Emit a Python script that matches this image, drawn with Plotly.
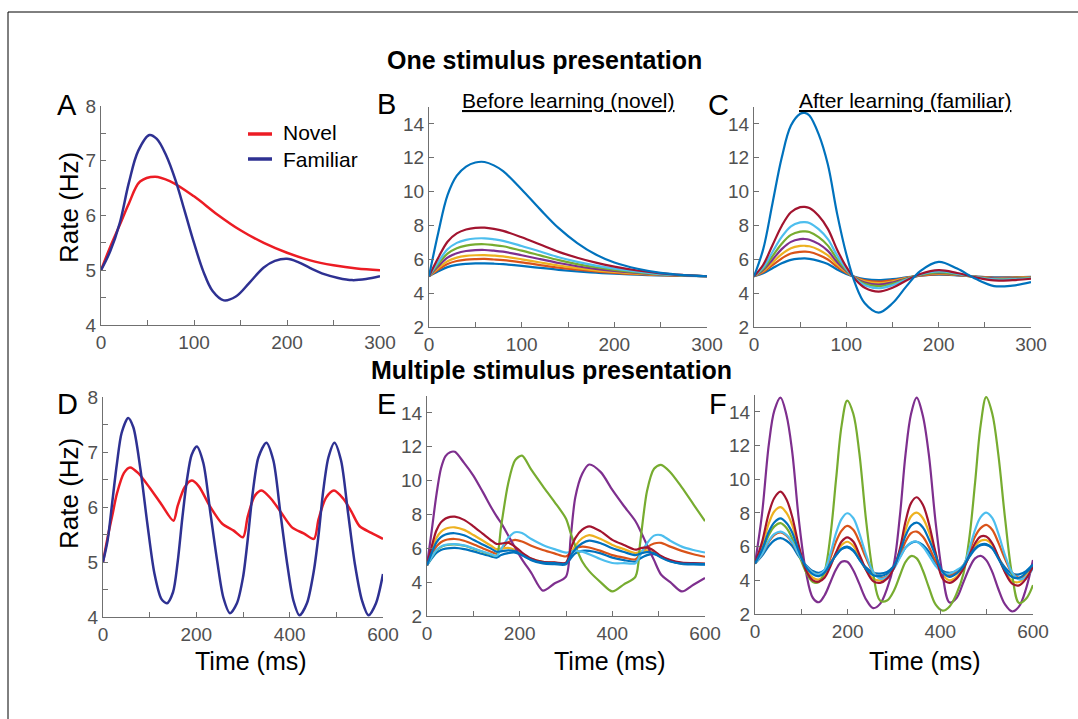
import plotly.graph_objects as go

W, H = 1078, 719
FONT = "Liberation Sans, Arial, Helvetica, sans-serif"

# ---------------- colours ----------------
NOVEL = '#EC1C24'
FAMIL = '#2E3192'
BLUE, ORANGE, YELLOW, PURPLE = '#0072BD', '#D95319', '#EDB120', '#7E2F8E'
GREEN, LBLUE, DRED = '#77AC30', '#4DBEEE', '#A2142F'

# ---------------- Panel A ----------------
t_A_novel = [0, 10, 20, 30, 42, 58, 75, 100, 125, 150, 175, 200, 225, 250, 275, 300]
A_novel = [5, 5.43, 5.82, 6.22, 6.62, 6.71, 6.62, 6.35, 6.02, 5.73, 5.5, 5.32, 5.18, 5.09, 5.03, 5.0]
t_A_fam = [0, 10, 20, 30, 40, 52, 60, 70, 80, 90, 100, 110, 120, 132, 145, 160, 175, 187, 200, 212, 225, 240, 255, 270, 285, 300]
A_fam = [5, 5.35, 5.85, 6.6, 7.18, 7.47, 7.4, 7.1, 6.65, 6.08, 5.5, 4.98, 4.62, 4.45, 4.52, 4.78, 5.05, 5.17, 5.21, 5.15, 5.04, 4.93, 4.86, 4.82, 4.84, 4.89]

# ---------------- Panel B ----------------
t_B = [0, 10, 20, 30, 40, 50, 60, 70, 80, 100, 120, 140, 160, 180, 200, 225, 250, 275, 300]
B_blue = [5, 5.29, 5.54, 5.67, 5.73, 5.76, 5.76, 5.74, 5.71, 5.61, 5.49, 5.38, 5.29, 5.21, 5.15, 5.09, 5.05, 5.02, 5]
B_orange = [5, 5.39, 5.72, 5.90, 5.98, 6.01, 6.02, 5.99, 5.95, 5.82, 5.66, 5.51, 5.39, 5.29, 5.20, 5.12, 5.06, 5.03, 5]
B_yellow = [5, 5.48, 5.89, 6.10, 6.20, 6.24, 6.25, 6.22, 6.17, 6.00, 5.81, 5.63, 5.48, 5.35, 5.25, 5.15, 5.08, 5.03, 5]
B_purple = [5, 5.59, 6.10, 6.36, 6.49, 6.54, 6.55, 6.51, 6.45, 6.24, 6.01, 5.78, 5.59, 5.43, 5.31, 5.19, 5.09, 5.04, 5]
B_green = [5, 5.72, 6.34, 6.66, 6.81, 6.88, 6.89, 6.84, 6.77, 6.51, 6.23, 5.95, 5.72, 5.53, 5.38, 5.23, 5.11, 5.05, 5]
B_lblue = [5, 5.85, 6.59, 6.97, 7.15, 7.23, 7.24, 7.18, 7.09, 6.79, 6.46, 6.12, 5.85, 5.63, 5.45, 5.27, 5.13, 5.06, 5]
B_dred = [5, 6.09, 7.04, 7.53, 7.76, 7.86, 7.87, 7.80, 7.68, 7.30, 6.87, 6.44, 6.09, 5.80, 5.57, 5.34, 5.17, 5.07, 5]
B_big = [5, 7.57, 9.79, 10.94, 11.48, 11.72, 11.75, 11.55, 11.21, 10.13, 8.95, 7.84, 6.96, 6.28, 5.81, 5.44, 5.2, 5.07, 5]

# ---------------- Panel C ----------------
t_C = [0, 10, 20, 30, 40, 50, 55, 60, 70, 80, 90, 100, 110, 120, 135, 150, 165, 180, 200, 220, 240, 260, 280, 300]
C_blue = [5, 5.17, 5.47, 5.76, 5.97, 6.04, 6.05, 6.03, 5.91, 5.72, 5.40, 5.14, 4.95, 4.83, 4.77, 4.83, 4.93, 5.03, 5.09, 5.05, 4.98, 4.94, 4.94, 4.96]
C_orange = [5, 5.24, 5.65, 6.05, 6.34, 6.44, 6.45, 6.43, 6.26, 5.99, 5.56, 5.20, 4.92, 4.76, 4.68, 4.76, 4.91, 5.04, 5.13, 5.07, 4.98, 4.91, 4.92, 4.95]
C_yellow = [5, 5.30, 5.80, 6.31, 6.66, 6.79, 6.8, 6.77, 6.57, 6.23, 5.69, 5.24, 4.91, 4.70, 4.60, 4.70, 4.89, 5.06, 5.16, 5.08, 4.97, 4.89, 4.90, 4.94]
C_purple = [5, 5.37, 5.98, 6.60, 7.03, 7.19, 7.2, 7.16, 6.91, 6.50, 5.84, 5.30, 4.89, 4.63, 4.51, 4.63, 4.86, 5.07, 5.19, 5.10, 4.96, 4.87, 4.87, 4.92]
C_green = [5, 5.44, 6.18, 6.92, 7.44, 7.64, 7.65, 7.61, 7.31, 6.81, 6.01, 5.36, 4.86, 4.56, 4.41, 4.56, 4.84, 5.08, 5.23, 5.12, 4.96, 4.84, 4.85, 4.90]
C_lblue = [5, 5.53, 6.43, 7.32, 7.95, 8.18, 8.2, 8.15, 7.78, 7.19, 6.23, 5.43, 4.83, 4.47, 4.29, 4.47, 4.80, 5.10, 5.28, 5.15, 4.95, 4.81, 4.82, 4.88]
C_dred = [5, 5.68, 6.83, 7.97, 8.78, 9.08, 9.1, 9.03, 8.57, 7.80, 6.57, 5.55, 4.79, 4.32, 4.09, 4.32, 4.75, 5.13, 5.36, 5.19, 4.93, 4.75, 4.77, 4.85]
C_big = [5, 6.6, 9.3, 12.0, 13.9, 14.6, 14.65, 14.5, 13.4, 11.6, 8.7, 6.3, 4.5, 3.4, 2.85, 3.4, 4.4, 5.3, 5.85, 5.45, 4.85, 4.42, 4.45, 4.65]

# ---------------- Panel D ----------------
t_D_novel = [0, 10, 20, 30, 45, 58, 75, 100, 125, 151, 160, 175, 190, 205, 230, 255, 280, 300, 310, 325, 340, 360, 380, 405, 430, 452, 462, 478, 495, 515, 532, 550, 575, 600]
D_novel = [5, 5.45, 5.85, 6.25, 6.62, 6.72, 6.62, 6.35, 6.05, 5.75, 6.02, 6.36, 6.48, 6.38, 6.0, 5.7, 5.57, 5.45, 5.82, 6.2, 6.3, 6.15, 5.92, 5.63, 5.52, 5.42, 5.78, 6.17, 6.3, 6.15, 5.92, 5.65, 5.53, 5.42]
t_D_fam = [0, 10, 20, 30, 40, 54, 65, 80, 95, 110, 125, 137, 150, 160, 170, 180, 190, 201, 215, 230, 245, 258, 272, 287, 300, 310, 320, 333, 350, 365, 380, 395, 408, 421, 437, 452, 462, 472, 483, 496, 510, 525, 540, 555, 569, 585, 600]
D_fam = [5, 5.4, 6.1, 6.8, 7.35, 7.62, 7.45, 6.7, 5.7, 4.8, 4.33, 4.25, 4.45, 5.0, 5.8, 6.5, 6.95, 7.1, 6.8, 5.9, 5.0, 4.35, 4.07, 4.25, 4.72, 5.4, 6.2, 6.9, 7.17, 6.85, 5.9, 4.95, 4.3, 4.03, 4.25, 4.85, 5.5, 6.3, 6.9, 7.17, 6.85, 5.9, 4.95, 4.3, 4.03, 4.25, 4.78]

# ---------------- Panel E ----------------
t_E = [0, 10, 20, 30, 40, 50, 60, 80, 100, 120, 140, 150,
       160, 175, 190, 205, 225, 250, 275, 300,
       310, 320, 335, 350, 375, 400, 425, 450,
       460, 475, 490, 505, 525, 550, 575, 600]
E_blue_low = [5, 5.39, 5.72, 5.90, 5.98, 6.01, 6.02, 5.95, 5.82, 5.66, 5.51, 5.45,
              5.6, 5.72, 5.75, 5.6, 5.3, 5.1, 5.06, 5.05,
              5.4, 5.7, 5.85, 5.85, 5.7, 5.45, 5.3, 5.22,
              5.4, 5.6, 5.65, 5.5, 5.25, 5.08, 5.05, 5.04]
E_orange = [5, 5.59, 6.10, 6.36, 6.49, 6.54, 6.55, 6.45, 6.24, 6.01, 5.78, 5.68,
            5.95, 6.35, 6.5, 6.4, 6.15, 5.9, 5.7, 5.52,
            5.75, 5.98, 6.1, 6.05, 5.85, 5.6, 5.45, 5.35,
            5.65, 6.05, 6.28, 6.32, 6.1, 5.85, 5.65, 5.5]
E_yellow = [5, 5.85, 6.59, 6.97, 7.15, 7.23, 7.24, 7.09, 6.79, 6.46, 6.12, 5.95,
            5.98, 6.02, 5.9, 5.65, 5.38, 5.2, 5.15, 5.12,
            5.65, 6.15, 6.6, 6.78, 6.55, 6.2, 5.95, 5.72,
            5.8, 5.88, 5.75, 5.5, 5.28, 5.12, 5.1, 5.08]
E_purple = [5.0, 7.0, 9.1, 10.7, 11.45, 11.68, 11.7, 11.05, 10.3, 9.35, 8.35, 7.9,
            7.5, 6.77, 6.05, 5.35, 4.55, 3.5, 3.92, 4.33,
            6.6, 9.0, 10.4, 10.95, 10.5, 9.45, 8.5, 7.6,
            7.07, 6.18, 5.3, 4.45, 4.0, 3.45, 3.85, 4.25]
E_green = [5, 5.47, 5.87, 6.08, 6.18, 6.22, 6.23, 6.15, 5.98, 5.79, 5.61, 5.55,
           7.3, 9.8, 11.2, 11.48, 10.65, 9.68, 8.75, 7.75,
           6.9, 6.15, 5.22, 4.65, 3.99, 3.45, 3.87, 4.33,
           6.3, 9.4, 10.7, 10.93, 10.5, 9.6, 8.6, 7.6]
E_lblue = [5, 5.48, 5.89, 6.10, 6.20, 6.24, 6.25, 6.17, 6.00, 5.81, 5.63, 5.55,
           5.95, 6.6, 6.95, 6.9, 6.55, 6.2, 5.95, 5.75,
           5.8, 5.85, 5.8, 5.65, 5.35, 5.13, 5.12, 5.12,
           5.6, 6.3, 6.75, 6.78, 6.45, 6.1, 5.9, 5.75]
E_dred = [5, 6.09, 7.04, 7.53, 7.76, 7.86, 7.87, 7.68, 7.30, 6.87, 6.44, 6.26,
          6.28, 6.33, 6.1, 5.75, 5.4, 5.2, 5.17, 5.15,
          5.95, 6.6, 7.1, 7.3, 7.0, 6.5, 6.2, 5.92,
          6.0, 6.05, 5.85, 5.55, 5.3, 5.15, 5.12, 5.1]
E_blue_mid = [5, 5.72, 6.34, 6.66, 6.81, 6.88, 6.89, 6.77, 6.51, 6.23, 5.95, 5.8,
              5.82, 5.88, 5.82, 5.6, 5.32, 5.15, 5.12, 5.1,
              5.55, 5.95, 6.3, 6.45, 6.3, 6.0, 5.78, 5.6,
              5.68, 5.78, 5.7, 5.45, 5.22, 5.1, 5.08, 5.06]

# ---------------- Panel F ----------------
t_F = [0, 15, 30, 42, 55, 68, 80, 95, 110, 125, 138, 150,
       163, 175, 187, 199, 212, 225, 240, 255, 270, 285, 300,
       313, 325, 337, 349, 362, 375, 390, 405, 420, 435, 450,
       463, 475, 487, 499, 512, 525, 540, 555, 570, 585, 600]
F_blue_low = [5.0, 5.45, 6.05, 6.38, 6.5, 6.35, 6.05, 5.4, 4.9, 4.55, 4.45, 4.6,
              5.05, 5.5, 5.85, 5.95, 5.75, 5.25, 4.75, 4.45, 4.4, 4.5, 4.85,
              5.4, 5.95, 6.22, 6.29, 6.1, 5.7, 5.05, 4.55, 4.45, 4.55, 4.85,
              5.4, 5.85, 6.08, 6.1, 5.9, 5.35, 4.75, 4.4, 4.35, 4.55, 4.95]
F_orange = [5.0, 5.55, 6.3, 6.7, 6.85, 6.65, 6.25, 5.5, 4.85, 4.45, 4.35, 4.55,
            5.35, 6.3, 6.95, 7.23, 7.0, 6.3, 5.3, 4.5, 4.15, 4.25, 4.75,
            5.5, 6.3, 6.8, 6.89, 6.6, 6.0, 5.15, 4.5, 4.3, 4.5, 4.9,
            5.75, 6.6, 7.1, 7.29, 7.0, 6.25, 5.25, 4.45, 4.15, 4.3, 4.8]
F_yellow = [5.0, 6.0, 7.4, 8.1, 8.34, 8.0, 7.3, 5.85, 4.7, 4.15, 4.05, 4.3,
            4.95, 5.6, 6.1, 6.29, 6.05, 5.4, 4.6, 4.1, 4.0, 4.2, 4.8,
            5.8, 7.0, 7.8, 8.02, 7.7, 6.9, 5.6, 4.35, 4.0, 4.2, 4.75,
            5.5, 6.05, 6.35, 6.39, 6.1, 5.4, 4.5, 3.95, 3.9, 4.25, 4.85]
F_purple = [5.0, 7.9, 12.1, 14.1, 14.85, 13.8, 11.7, 7.5, 4.5, 2.95, 2.7, 3.1,
            3.9, 4.65, 5.1, 5.1, 4.6, 3.8, 2.85, 2.35, 2.6, 3.5, 5.0,
            7.9, 11.5, 13.9, 14.85, 13.8, 11.5, 7.4, 4.3, 2.68, 2.95, 3.9,
            4.75, 5.3, 5.45, 5.2, 4.5, 3.5, 2.55, 2.15, 2.45, 3.5, 5.2]
F_green = [5.0, 5.7, 6.7, 7.2, 7.39, 7.1, 6.5, 5.5, 4.5, 3.9, 3.9, 4.5,
           6.7, 10.0, 13.2, 14.67, 13.9, 11.6, 7.5, 4.4, 2.8, 2.8, 3.4,
           4.3, 5.1, 5.44, 5.3, 4.6, 3.6, 2.55, 2.2, 2.45, 3.2, 4.4,
           6.6, 9.8, 13.2, 14.87, 13.9, 11.5, 7.6, 4.3, 2.65, 2.9, 3.72]
F_lblue = [5.0, 5.55, 6.35, 6.75, 6.89, 6.7, 6.3, 5.5, 4.85, 4.45, 4.35, 4.6,
           5.6, 6.8, 7.65, 7.98, 7.7, 6.8, 5.5, 4.5, 4.1, 4.2, 4.7,
           5.35, 5.95, 6.25, 6.29, 6.0, 5.5, 4.85, 4.45, 4.4, 4.6, 4.9,
           5.9, 7.0, 7.75, 8.02, 7.7, 6.8, 5.45, 4.45, 4.05, 4.2, 4.7]
F_dred = [5.0, 6.25, 8.0, 8.9, 9.26, 8.8, 7.8, 6.0, 4.6, 4.0, 3.92, 4.15,
          4.85, 5.65, 6.3, 6.55, 6.3, 5.55, 4.6, 3.95, 3.85, 4.1, 4.75,
          5.9, 7.5, 8.6, 8.93, 8.5, 7.4, 5.6, 4.1, 3.85, 4.1, 4.7,
          5.5, 6.2, 6.6, 6.6, 6.2, 5.4, 4.45, 3.8, 3.7, 4.1, 4.81]
F_blue_mid = [5.0, 5.8, 6.9, 7.45, 7.68, 7.4, 6.85, 5.7, 4.8, 4.35, 4.25, 4.45,
              5.0, 5.5, 5.88, 6.0, 5.8, 5.25, 4.65, 4.3, 4.25, 4.4, 4.85,
              5.7, 6.65, 7.25, 7.42, 7.15, 6.45, 5.45, 4.5, 4.2, 4.4, 4.85,
              5.45, 5.9, 6.12, 6.15, 5.9, 5.3, 4.6, 4.2, 4.15, 4.45, 4.95]

# ---------------- tick labels ----------------
x_ticks_single = [0, 100, 200, 300]
x_ticks_multi = [0, 200, 400, 600]
y_ticks_small = [4, 5, 6, 7, 8]
y_ticks_big = [2, 4, 6, 8, 10, 12, 14]

# ---------------- layout geometry (pixels) ----------------
panels = {
    'A': dict(px=(101, 380), py=(106, 325), xr=[0, 300], yr=[4, 8], xt=x_ticks_single, xm=50, yt=y_ticks_small, ym=0.5),
    'B': dict(px=(429, 707), py=(107, 327), xr=[0, 300], yr=[2, 15], xt=x_ticks_single, xm=50, yt=y_ticks_big, ym=None),
    'C': dict(px=(754, 1031), py=(107, 327), xr=[0, 300], yr=[2, 15], xt=x_ticks_single, xm=50, yt=y_ticks_big, ym=None),
    'D': dict(px=(103, 383), py=(397, 617), xr=[0, 600], yr=[4, 8], xt=x_ticks_multi, xm=100, yt=y_ticks_small, ym=0.5),
    'E': dict(px=(427, 705), py=(396, 616), xr=[0, 600], yr=[2, 15], xt=x_ticks_multi, xm=100, yt=y_ticks_big, ym=None),
    'F': dict(px=(755, 1033), py=(395, 614), xr=[0, 600], yr=[2, 15], xt=x_ticks_multi, xm=100, yt=y_ticks_big, ym=None),
}

series = {
    'A': [(t_A_novel, A_novel, NOVEL), (t_A_fam, A_fam, FAMIL)],
    'B': [(t_B, v, c) for v, c in [(B_blue, BLUE), (B_orange, ORANGE), (B_yellow, YELLOW), (B_purple, PURPLE),
                                   (B_green, GREEN), (B_lblue, LBLUE), (B_dred, DRED), (B_big, BLUE)]],
    'C': [(t_C, v, c) for v, c in [(C_blue, BLUE), (C_orange, ORANGE), (C_yellow, YELLOW), (C_purple, PURPLE),
                                   (C_green, GREEN), (C_lblue, LBLUE), (C_dred, DRED), (C_big, BLUE)]],
    'D': [(t_D_novel, D_novel, NOVEL), (t_D_fam, D_fam, FAMIL)],
    'E': [(t_E, v, c) for v, c in [(E_blue_low, BLUE), (E_orange, ORANGE), (E_yellow, YELLOW), (E_purple, PURPLE),
                                   (E_green, GREEN), (E_lblue, LBLUE), (E_dred, DRED), (E_blue_mid, BLUE)]],
    'F': [(t_F, v, c) for v, c in [(F_blue_low, BLUE), (F_orange, ORANGE), (F_yellow, YELLOW), (F_purple, PURPLE),
                                   (F_green, GREEN), (F_lblue, LBLUE), (F_dred, DRED), (F_blue_mid, BLUE)]],
}

AXCOL = '#707070'
TICKCOL = '#505050'

fig = go.Figure()
layout = dict(width=W, height=H, margin=dict(l=0, r=0, t=0, b=0), autosize=False,
              paper_bgcolor='white', plot_bgcolor='white', showlegend=False,
              font=dict(family=FONT, color='black'))

for i, (name, p) in enumerate(panels.items()):
    k = '' if i == 0 else str(i + 1)
    xd = [p['px'][0] / W, p['px'][1] / W]
    yd = [1 - p['py'][1] / H, 1 - p['py'][0] / H]
    common = dict(showline=True, linecolor=AXCOL, linewidth=1, showgrid=False, zeroline=False,
                  ticks='inside', ticklen=5, tickcolor=AXCOL, tickwidth=1,
                  tickfont=dict(size=19, color=TICKCOL, family=FONT), automargin=False, fixedrange=True)
    xa = dict(common, domain=xd, range=p['xr'], tickmode='array', tickvals=p['xt'],
              anchor='y' + k, minor=dict(ticks='inside', ticklen=5, tickcolor=AXCOL, dtick=p['xm'], tick0=0))
    ya = dict(common, domain=yd, range=p['yr'], tickmode='array', tickvals=p['yt'], anchor='x' + k)
    if p['ym']:
        ya['minor'] = dict(ticks='inside', ticklen=5, tickcolor=AXCOL, dtick=p['ym'], tick0=0)
    layout['xaxis' + k] = xa
    layout['yaxis' + k] = ya
    lw = 2.5 if name in ('A', 'D') else 2.2
    sm = 0.8 if name in ('D', 'E') else 1.0
    for tt, vv, col in series[name]:
        assert len(tt) == len(vv), (name, len(tt), len(vv))
        fig.add_trace(go.Scatter(x=tt, y=vv, mode='lines', xaxis='x' + k, yaxis='y' + k,
                                 line=dict(color=col, width=lw, shape='spline', smoothing=sm),
                                 hoverinfo='skip'))


def P(x, y):
    return x / W, 1 - y / H


annotations = []


def text(s, x, y, size, bold=False, xanchor='center', angle=0, color='black'):
    px_, py_ = P(x, y)
    annotations.append(dict(text=('<b>%s</b>' % s) if bold else s, x=px_, y=py_, xref='paper', yref='paper',
                            xanchor=xanchor, yanchor='middle', showarrow=False, textangle=angle,
                            font=dict(size=size, color=color, family=FONT)))


text('One stimulus presentation', 544, 60, 25, bold=True)
text('Multiple stimulus presentation', 551, 370, 25, bold=True)
text('<u>Before learning (novel)</u>', 568, 101, 21)
text('<u>After learning (familiar)</u>', 905, 101, 21)
for letter, (lx, ly) in zip('ABCDEF', [(67, 105), (386, 104), (718, 105), (67, 404), (386, 404), (718, 404)]):
    text(letter, lx, ly, 29)
text('Rate (Hz)', 69, 208, 26, angle=-90)
text('Rate (Hz)', 69, 494, 26, angle=-90)
text('Time (ms)', 251, 661, 25)
text('Time (ms)', 610, 661, 25)
text('Time (ms)', 925, 661, 25)
text('Novel', 281, 132, 21, xanchor='left')
text('Familiar', 281, 159, 21, xanchor='left')

shapes = []
for yy, col in [(134, NOVEL), (159, FAMIL)]:
    x0, y0 = P(248, yy)
    x1, _ = P(272, yy)
    shapes.append(dict(type='line', xref='paper', yref='paper', x0=x0, x1=x1, y0=y0, y1=y0,
                       line=dict(color=col, width=3.5)))
# figure frame (top and left edges)
fx0, fy0 = P(8, 12)
shapes.append(dict(type='line', xref='paper', yref='paper', x0=fx0, x1=1, y0=fy0, y1=fy0,
                   line=dict(color='black', width=1)))
shapes.append(dict(type='line', xref='paper', yref='paper', x0=fx0, x1=fx0, y0=fy0, y1=0,
                   line=dict(color='black', width=1)))

layout['annotations'] = annotations
layout['shapes'] = shapes
fig.update_layout(**layout)

fig.write_html("out.html", config={'displayModeBar': False, 'staticPlot': True},
               post_script="document.body.style.margin='0';document.body.style.overflow='hidden';")
